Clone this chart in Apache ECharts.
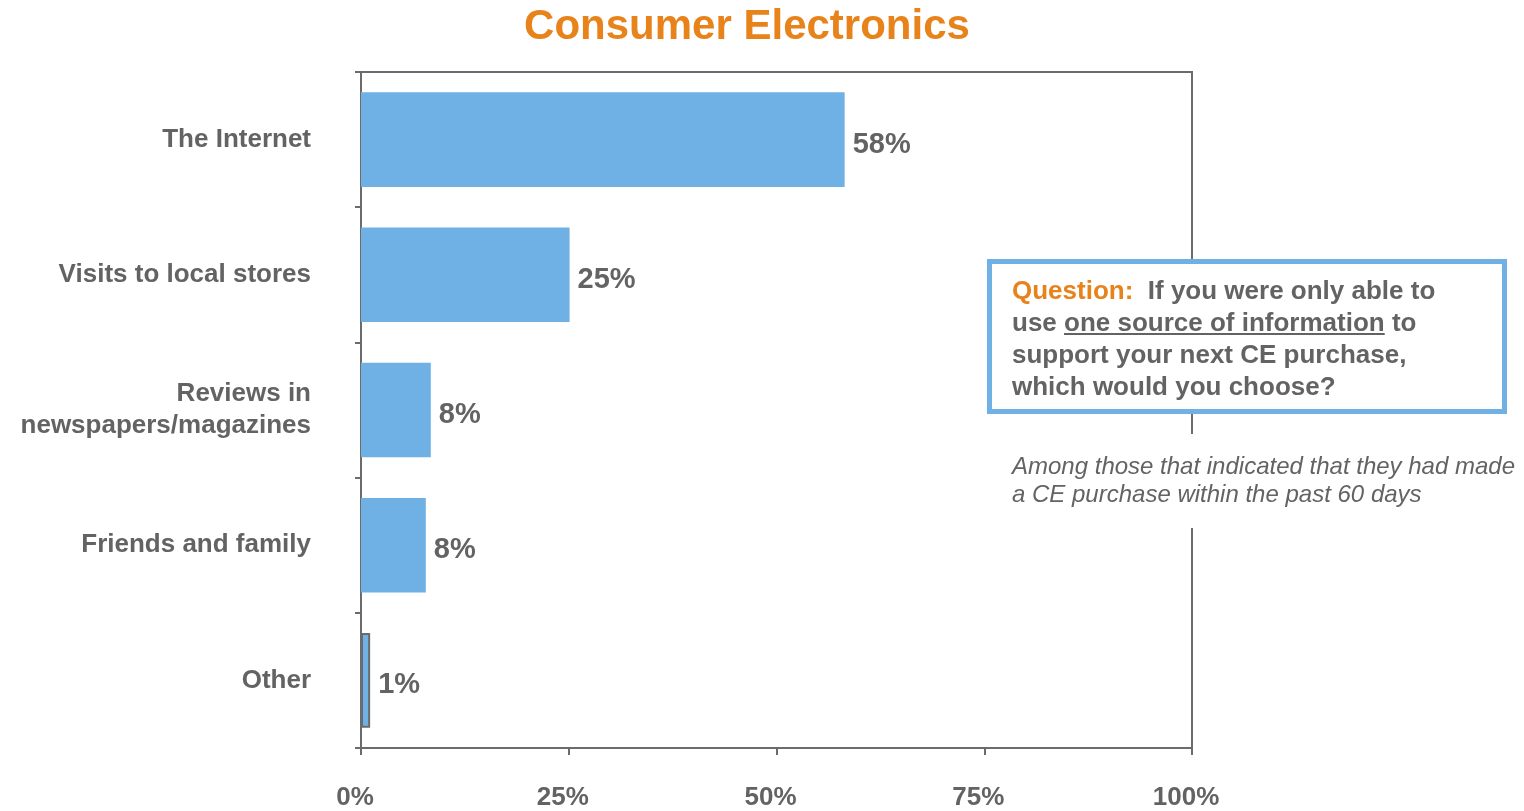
<!DOCTYPE html>
<html>
<head>
<meta charset="utf-8">
<title>Consumer Electronics</title>
<script src="https://cdn.jsdelivr.net/npm/echarts@6/dist/echarts.min.js"></script>
<style>
  html, body { margin: 0; padding: 0; background: #fff; }
  #chart { width: 1524px; height: 811px; }
</style>
</head>
<body>
<div id="chart"></div>
<script>
// data
const categories = ['The Internet', 'Visits to local stores', 'Reviews in\nnewspapers/magazines', 'Friends and family', 'Other'];
const shares = [58.2, 25.1, 8.4, 7.8, 1.1];
const tickValues = [0, 25, 50, 75, 100];

const gray = '#636363';
const axisGray = '#6b6b6b';
const blue = '#6fb1e4';
const orange = '#e8821a';
const font = '"Liberation Sans", Arial, sans-serif';
const boxFont = 'bold 26px ' + font;

const chart = echarts.init(document.getElementById('chart'));

// measure text so the underline sits under the right words
const measure = (txt, f) => {
  const ctx = document.createElement('canvas').getContext('2d');
  ctx.font = f;
  return ctx.measureText(txt).width;
};
const boxX = 1012;
const ulStart = boxX + measure('use ', boxFont);
const ulEnd = ulStart + measure('one source of information', boxFont);

const seriesData = shares.map((v, i) => {
  if (i === shares.length - 1) {
    // the small "Other" bar has an outline
    return { value: v, itemStyle: { borderColor: axisGray, borderWidth: 2 } };
  }
  return v;
});

chart.setOption({
  animation: false,
  grid: {
    left: 361,
    right: 332,
    top: 72,
    bottom: 63,
    show: true,
    borderColor: axisGray,
    borderWidth: 2,
    backgroundColor: 'transparent'
  },
  xAxis: {
    type: 'value',
    min: tickValues[0],
    max: tickValues[tickValues.length - 1],
    interval: 25,
    axisLine: { show: true, lineStyle: { color: axisGray, width: 2 } },
    axisTick: { show: true, length: 7, lineStyle: { color: axisGray, width: 2 } },
    splitLine: { show: false },
    axisLabel: {
      margin: 37,
      color: gray,
      fontFamily: font,
      fontWeight: 'bold',
      fontSize: 26,
      padding: [0, 12, 0, 0],
      formatter: v => v + '%'
    }
  },
  yAxis: {
    type: 'category',
    inverse: true,
    data: categories,
    axisLine: { show: true, lineStyle: { color: axisGray, width: 2 } },
    axisTick: { show: true, length: 6, lineStyle: { color: axisGray, width: 2 } },
    axisLabel: {
      margin: 50,
      color: gray,
      fontFamily: font,
      fontWeight: 'bold',
      fontSize: 26,
      lineHeight: 32,
      align: 'right',
      padding: [0, 0, 9, 0]
    }
  },
  series: [
    {
      type: 'bar',
      data: seriesData,
      barCategoryGap: '30%',
      itemStyle: { color: blue },
      label: {
        show: true,
        position: 'right',
        distance: 8,
        offset: [0, 5],
        color: gray,
        fontFamily: font,
        fontWeight: 'bold',
        fontSize: 29,
        formatter: p => Math.round(p.value) + '%'
      }
    }
  ],
  graphic: [
    {
      type: 'text',
      x: 747,
      y: 27,
      style: {
        text: 'Consumer Electronics',
        fill: orange,
        font: 'bold 42px ' + font,
        textAlign: 'center',
        textVerticalAlign: 'middle'
      }
    },
    {
      type: 'rect',
      z: 10,
      shape: { x: 989.5, y: 261.5, width: 515, height: 150 },
      style: { fill: '#fff', stroke: blue, lineWidth: 5 }
    },
    {
      type: 'text',
      z: 11,
      x: boxX,
      y: 276,
      style: {
        text: '{q|Question:}{b|  If you were only able to}\n{b|use }{b|one source of information}{b| to}\n{b|support your next CE purchase,}\n{b|which would you choose?}',
        rich: {
          q: { fill: orange, font: boxFont, lineHeight: 32 },
          b: { fill: gray, font: boxFont, lineHeight: 32 }
        }
      }
    },
    {
      // underline under "one source of information"
      type: 'line',
      z: 11,
      shape: { x1: ulStart, y1: 334, x2: ulEnd, y2: 334 },
      style: { stroke: gray, lineWidth: 2 }
    },
    {
      type: 'text',
      z: 11,
      x: boxX,
      y: 434,
      style: {
        text: 'Among those that indicated that they had made\na CE purchase within the past 60 days',
        fill: gray,
        font: 'italic 24px ' + font,
        lineHeight: 28,
        backgroundColor: '#fff',
        padding: [19, 0, 19, 0]
      }
    }
  ]
});
</script>
</body>
</html>
